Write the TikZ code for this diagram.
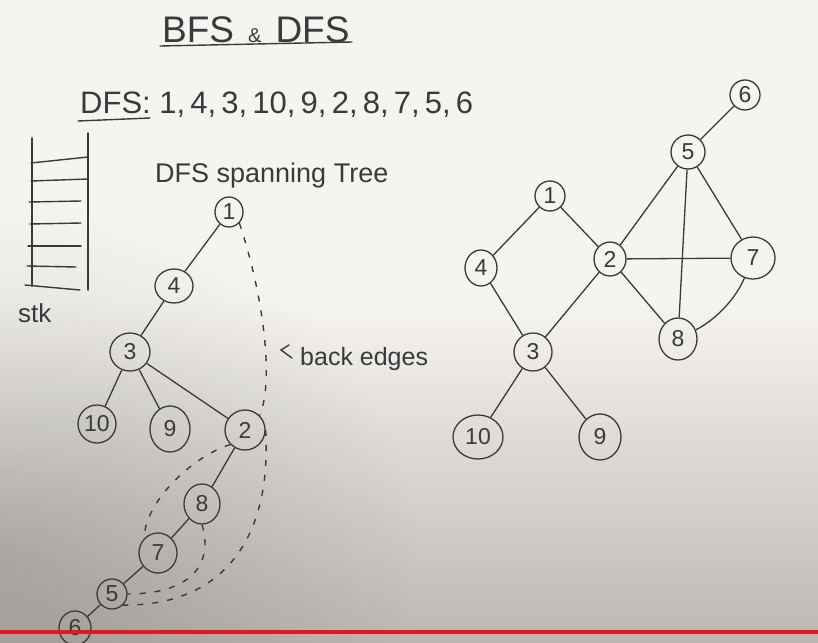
\documentclass[tikz,border=0pt]{standalone}
\usepackage{fontspec}
\setmainfont{Liberation Sans}
\usetikzlibrary{shapes.geometric,fadings}
\definecolor{pen}{HTML}{3A3A3A}
\definecolor{paperA}{HTML}{F6F4F1}
\definecolor{paperB}{HTML}{BCB7B2}
\definecolor{redline}{HTML}{E5161C}
\tikzfading[name=softspot, inner color=transparent!0, outer color=transparent!100]
\begin{document}
\begin{tikzpicture}[x=1pt,y=-1pt,
  vtx/.style={draw=pen, line width=1.3pt, ellipse, inner sep=0pt, text=pen,
    font=\fontsize{23}{23}\selectfont},
  tedge/.style={draw=pen, line width=1.3pt},
  backedge/.style={draw=pen, line width=1.4pt, dash pattern=on 6pt off 9pt},
  hand/.style={text=pen, inner sep=0pt, anchor=base west},
  stackline/.style={draw=pen, line width=1.4pt, line cap=round}]

\useasboundingbox (0,0) rectangle (818,642);
% whiteboard background
\fill[paperA] (0,0) rectangle (818,300);
\shade[top color=paperA, bottom color=paperB] (0,300) rectangle (818,642);
\begin{scope}
\clip (0,0) rectangle (818,642);
\fill[black, opacity=0.16, path fading=softspot] (0,560) ellipse (420 and 360);
\end{scope}

% ---------- texts ----------
\node[hand, font=\fontsize{37}{37}\selectfont] (title) at (162,42)
  {BFS\hspace{14pt}{\fontsize{20}{20}\selectfont\&}\hspace{14pt}DFS};
\draw[stackline] (160,46) -- (352,42);

\node[hand, font=\fontsize{31}{31}\selectfont] (order) at (80,113)
  {DFS:\ 1,\,4,\,3,\,10,\,9,\,2,\,8,\,7,\,5,\,6};
\draw[stackline] (78,121) -- (150,118);

\node[hand, font=\fontsize{27}{27}\selectfont] (subtitle) at (155,182)
  {DFS spanning Tree};
\node[hand, font=\fontsize{25}{25}\selectfont] (backlabel) at (300,365)
  {back edges};
\draw[stackline] (289,345) -- (281,350) -- (292,358);
\node[hand, font=\fontsize{26}{26}\selectfont] (stk) at (18,322) {stk};

% ---------- stack ----------
\draw[stackline] (32,138) -- (32,286);
\draw[stackline] (88,133) -- (88,290);
\draw[stackline] (31,163) -- (88,157);
\draw[stackline] (31,181) -- (88,179);
\draw[stackline] (29,202) -- (81,201);
\draw[stackline] (30,224) -- (81,223);
\draw[stackline] (28,246) -- (81,246);
\draw[stackline] (27,266) -- (76,267);
\draw[stackline] (25,285) -- (80,290);

% ---------- DFS spanning tree ----------
\node[vtx, minimum width=28, minimum height=30] (l1) at (229,212) {1};
\node[vtx, minimum width=38, minimum height=34] (l4) at (174,286) {4};
\node[vtx, minimum width=40, minimum height=38] (l3) at (130,352) {3};
\node[vtx, minimum width=38, minimum height=38] (l10) at (97,424) {10};
\node[vtx, minimum width=40, minimum height=46] (l9) at (170,429) {9};
\node[vtx, minimum width=40, minimum height=40] (l2) at (245,430) {2};
\node[vtx, minimum width=36, minimum height=40] (l8) at (202,504) {8};
\node[vtx, minimum width=38, minimum height=40] (l7) at (158,553) {7};
\node[vtx, minimum width=30, minimum height=30] (l5) at (112,594) {5};
\node[vtx, minimum width=32, minimum height=34] (l6) at (75,628) {6};

\draw[tedge] (l1) -- (l4);
\draw[tedge] (l4) -- (l3);
\draw[tedge] (l3) -- (l10);
\draw[tedge] (l3) -- (l9);
\draw[tedge] (l3) -- (l2);
\draw[tedge] (l2) -- (l8);
\draw[tedge] (l8) -- (l7);
\draw[tedge] (l7) -- (l5);
\draw[tedge] (l5) -- (l6);

% back edges
\draw[backedge] (l1.south east) .. controls (262,290) and (275,380) .. (l2.north east);
\draw[backedge] (l2.east) .. controls (272,540) and (222,606) .. (l5.south east);
\draw[backedge] (l2.south west) .. controls (195,455) and (145,500) .. (l7.north west);
\draw[backedge] (l8.south) .. controls (214,565) and (190,594) .. (l5.east);

% ---------- graph ----------
\node[vtx, minimum width=30, minimum height=30] (r6) at (745,95) {6};
\node[vtx, minimum width=34, minimum height=34] (r5) at (688,152) {5};
\node[vtx, minimum width=30, minimum height=30] (r1) at (550,196) {1};
\node[vtx, minimum width=32, minimum height=36] (r4) at (481,268) {4};
\node[vtx, minimum width=32, minimum height=34] (r2) at (610,259) {2};
\node[vtx, minimum width=44, minimum height=42] (r7) at (753,258) {7};
\node[vtx, minimum width=38, minimum height=42] (r8) at (678,339) {8};
\node[vtx, minimum width=38, minimum height=38] (r3) at (533,352) {3};
\node[vtx, minimum width=50, minimum height=44] (r10) at (478,437) {10};
\node[vtx, minimum width=42, minimum height=46] (r9) at (600,437) {9};

\draw[tedge] (r1) -- (r4);
\draw[tedge] (r1) -- (r2);
\draw[tedge] (r4) -- (r3);
\draw[tedge] (r3) -- (r2);
\draw[tedge] (r3) -- (r10);
\draw[tedge] (r3) -- (r9);
\draw[tedge] (r2) -- (r5);
\draw[tedge] (r2) -- (r7);
\draw[tedge] (r2) -- (r8);
\draw[tedge] (r5) -- (r6);
\draw[tedge] (r5) -- (r7);
\draw[tedge] (r5) -- (r8);
\draw[tedge] (r7) .. controls (735,300) and (715,320) .. (r8);

% red line
\draw[redline, line width=4pt] (0,632) -- (818,632);
\end{tikzpicture}
\end{document}
